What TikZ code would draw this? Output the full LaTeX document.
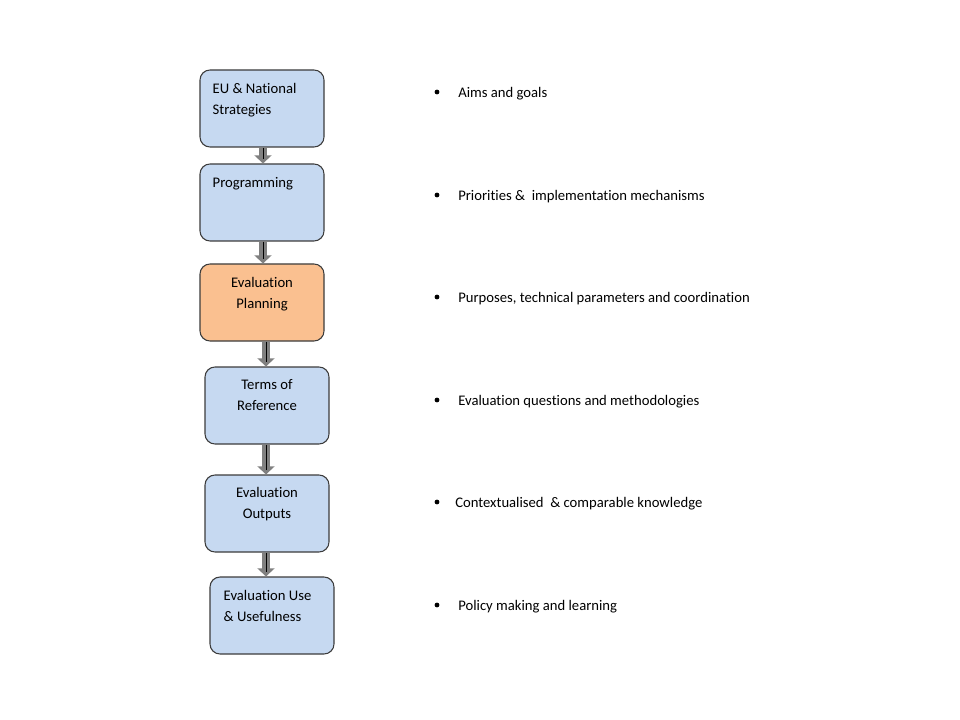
\documentclass[tikz,border=0pt]{standalone}
\usepackage{fontspec}
\setmainfont{Carlito}[Ligatures=NoCommon]
\usetikzlibrary{arrows.meta,calc}
\definecolor{boxblue}{HTML}{C6D9F1}
\definecolor{boxorange}{HTML}{FAC090}
\definecolor{boxline}{HTML}{3C3C3C}
\definecolor{arrowgray}{HTML}{808080}
\begin{document}
\begin{tikzpicture}[x=0.75pt,y=-0.75pt,
  stagebox/.style={draw=boxline,line width=0.8pt,rounded corners=7.5pt,minimum width=93pt,minimum height=57.75pt,inner sep=0pt},
  bluebox/.style={stagebox,fill=boxblue},
  orangebox/.style={stagebox,fill=boxorange},
  boxtext/.style={font=\fontsize{11}{15.75}\selectfont,inner sep=0pt,align=left,anchor=north west},
  ctext/.style={font=\fontsize{11}{15.75}\selectfont,inner sep=0pt,align=center,anchor=north},
  bullettext/.style={font=\fontsize{11}{12}\selectfont,inner sep=0pt,anchor=west},
  bulletdot/.style={circle,fill=black,inner sep=0pt,minimum size=3.6pt},
  flowshaft/.style={draw=arrowgray,line width=6.5pt,-{Triangle[width=12.5pt,length=6pt]}},
  flowline/.style={draw=black,line width=0.7pt}
]
\useasboundingbox (0,0) rectangle (960,720);
\fill[white] (0,0) rectangle (960,720);

\node[bluebox]   (b1) at (262,108.5) {};
\node[bluebox]   (b2) at (262,202.5) {};
\node[orangebox] (b3) at (262,302.5) {};
\node[bluebox]   (b4) at (267,405.5) {};
\node[bluebox]   (b5) at (267,513.5) {};
\node[bluebox]   (b6) at (272,615.5) {};

\node[boxtext] (t1) at ($(b1.north west)+(13,14)$) {EU \& National\\Strategies};
\node[boxtext] (t2) at ($(b2.north west)+(13,14)$) {Programming};
\node[ctext]   (t3) at ($(b3.north)+(0,14)$) {Evaluation\\Planning};
\node[ctext]   (t4) at ($(b4.north)+(0,13)$) {Terms of\\Reference};
\node[ctext]   (t5) at ($(b5.north)+(0,13)$) {Evaluation\\Outputs};
\node[boxtext] (t6) at ($(b6.north west)+(14,14)$) {Evaluation Use\\\& Usefulness};

% arrows
\coordinate (a1s) at ($(b1.south)+(1,0)$);
\coordinate (a1e) at ($(b2.north)+(1,0)$);
\coordinate (a2s) at ($(b2.south)+(1,0)$);
\coordinate (a2e) at ($(b3.north)+(1,0)$);
\coordinate (a3s) at ($(b3.south -| b4.north)+(-1,0)$);
\coordinate (a3e) at ($(b4.north)+(-1,0)$);
\coordinate (a4s) at ($(b4.south)+(-1,0)$);
\coordinate (a4e) at ($(b5.north)+(-1,0)$);
\coordinate (a5s) at ($(b5.south)+(-1,0)$);
\coordinate (a5e) at ($(b5.south |- b6.north)+(-1,0)$);
\foreach \s/\e in {a1s/a1e,a2s/a2e,a3s/a3e,a4s/a4e,a5s/a5e}{
  \draw[flowshaft] (\s) -- (\e);
  \draw[flowline] (\s) -- ($(\e)+(0,-4)$);
}

% bullets
\node[bulletdot] (d1) at (437,92) {};
\node[bullettext] (l1) at (458,94) {Aims and goals};
\node[bulletdot] (d2) at (437,195) {};
\node[bullettext] (l2) at (458,197) {Priorities \&\ \ implementation mechanisms};
\node[bulletdot] (d3) at (437,297) {};
\node[bullettext] (l3) at (458,299) {Purposes, technical parameters and coordination};
\node[bulletdot] (d4) at (437,400) {};
\node[bullettext] (l4) at (458,402) {Evaluation questions and methodologies};
\node[bulletdot] (d5) at (437,502) {};
\node[bullettext] (l5) at (455,504) {Contextualised\ \ \& comparable knowledge};
\node[bulletdot] (d6) at (437,605) {};
\node[bullettext] (l6) at (458,607) {Policy making and learning};
\end{tikzpicture}
\end{document}
